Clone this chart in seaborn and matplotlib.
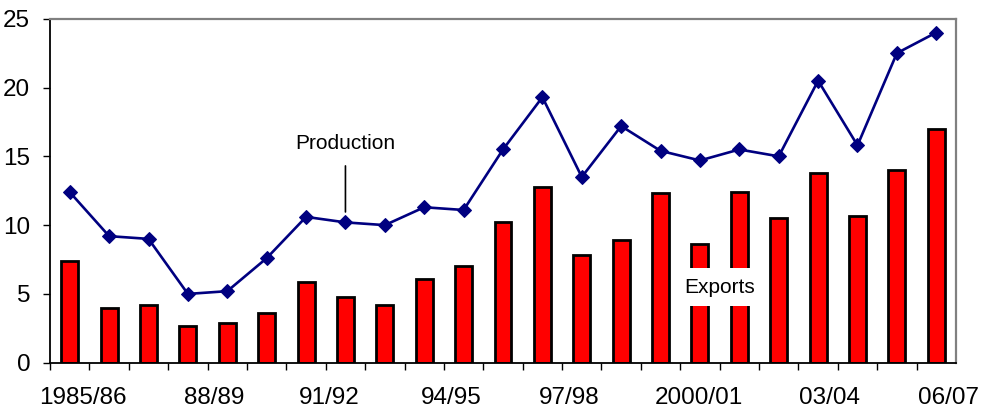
import numpy as np
import pandas as pd
import matplotlib
matplotlib.use("Agg")
import matplotlib.pyplot as plt
import seaborn as sns

# Season-by-season production and exports
seasons = [
    "1984/85", "1985/86", "1986/87", "1987/88", "1988/89", "1989/90",
    "1990/91", "1991/92", "1992/93", "1993/94", "1994/95", "1995/96",
    "1996/97", "1997/98", "1998/99", "1999/00", "2000/01", "2001/02",
    "2002/03", "2003/04", "2004/05", "2005/06", "2006/07",
]
production = [12.4, 9.2, 9.0, 5.0, 5.2, 7.6, 10.6, 10.2, 10.0, 11.3, 11.1, 15.5,
              19.3, 13.5, 17.2, 15.4, 14.7, 15.5, 15.0, 20.5, 15.8, 22.5, 24.0]
exports = [7.4, 4.0, 4.2, 2.7, 2.9, 3.6, 5.9, 4.8, 4.2, 6.1, 7.0, 10.2,
           12.8, 7.8, 8.9, 12.3, 8.6, 12.4, 10.5, 13.8, 10.7, 14.0, 17.0]

# Category-axis labels (every third season)
tick_labels = ["1985/86", "88/89", "91/92", "94/95", "97/98", "2000/01", "03/04", "06/07"]
tick_positions = [0.34, 3.66, 6.6, 9.68, 12.67, 15.97, 19.3, 22.3]

sns.set_style("white")
plt.rcParams["font.family"] = ["Liberation Sans", "DejaVu Sans"]
plt.rcParams["text.color"] = "black"
plt.rcParams["xtick.color"] = "black"
plt.rcParams["ytick.color"] = "black"
plt.rcParams["axes.labelcolor"] = "black"

df = pd.DataFrame({"season": seasons, "production": production, "exports": exports})
df["idx"] = np.arange(len(df))

fig, ax = plt.subplots(figsize=(9.83, 4.08), dpi=100)
fig.subplots_adjust(left=0.0509, right=0.9725, bottom=0.111, top=0.954)

sns.barplot(data=df, x="season", y="exports", ax=ax, width=0.43,
            color="#FF0000", saturation=1, edgecolor="black", linewidth=2.0,
            zorder=2)
sns.lineplot(data=df, x="idx", y="production", ax=ax, color="#000080",
             linewidth=1.9, marker="D", markersize=7.5,
             markeredgecolor="#000080", zorder=4, sort=False)

ax.set_xlim(-0.5, len(seasons) - 0.5)
ax.set_ylim(0, 25)
ax.set_yticks(np.arange(0, 26, 5))
ax.set_xlabel("")
ax.set_ylabel("")

# Tick marks on category boundaries, labels on their own minor ticks
ax.set_xticks(np.arange(-0.5, len(seasons) - 1, 1.0))
ax.set_xticklabels([])
ax.set_xticks(tick_positions, minor=True)
ax.set_xticklabels(tick_labels, minor=True)
ax.tick_params(axis="x", which="major", direction="out", length=5.3, width=1.0,
               color="black", bottom=True)
ax.tick_params(axis="x", which="minor", length=0, pad=17.5, labelsize=17.5,
               labelcolor="black")
ax.tick_params(axis="y", which="major", direction="out", length=5.3, width=1.0,
               color="black", left=True, pad=9, labelsize=17.5, labelcolor="black")

for side in ("left", "bottom"):
    ax.spines[side].set_color("black")
    ax.spines[side].set_linewidth(1.3)
for side in ("top", "right"):
    ax.spines[side].set_visible(True)
    ax.spines[side].set_color("#808080")
    ax.spines[side].set_linewidth(1.6)

ax.annotate("Production", xy=(7, production[7]), xytext=(7, 15.94),
            textcoords="data", ha="center", va="center", fontsize=15,
            color="black",
            arrowprops=dict(arrowstyle="-", color="black", lw=1.2,
                            shrinkA=7, shrinkB=7.5), zorder=5)

ax.text(16.5, 5.5, "Exports", ha="center", va="center", fontsize=15, zorder=5,
        color="black", bbox=dict(facecolor="white", edgecolor="none", pad=7))

fig.savefig("out.png", dpi=100)
